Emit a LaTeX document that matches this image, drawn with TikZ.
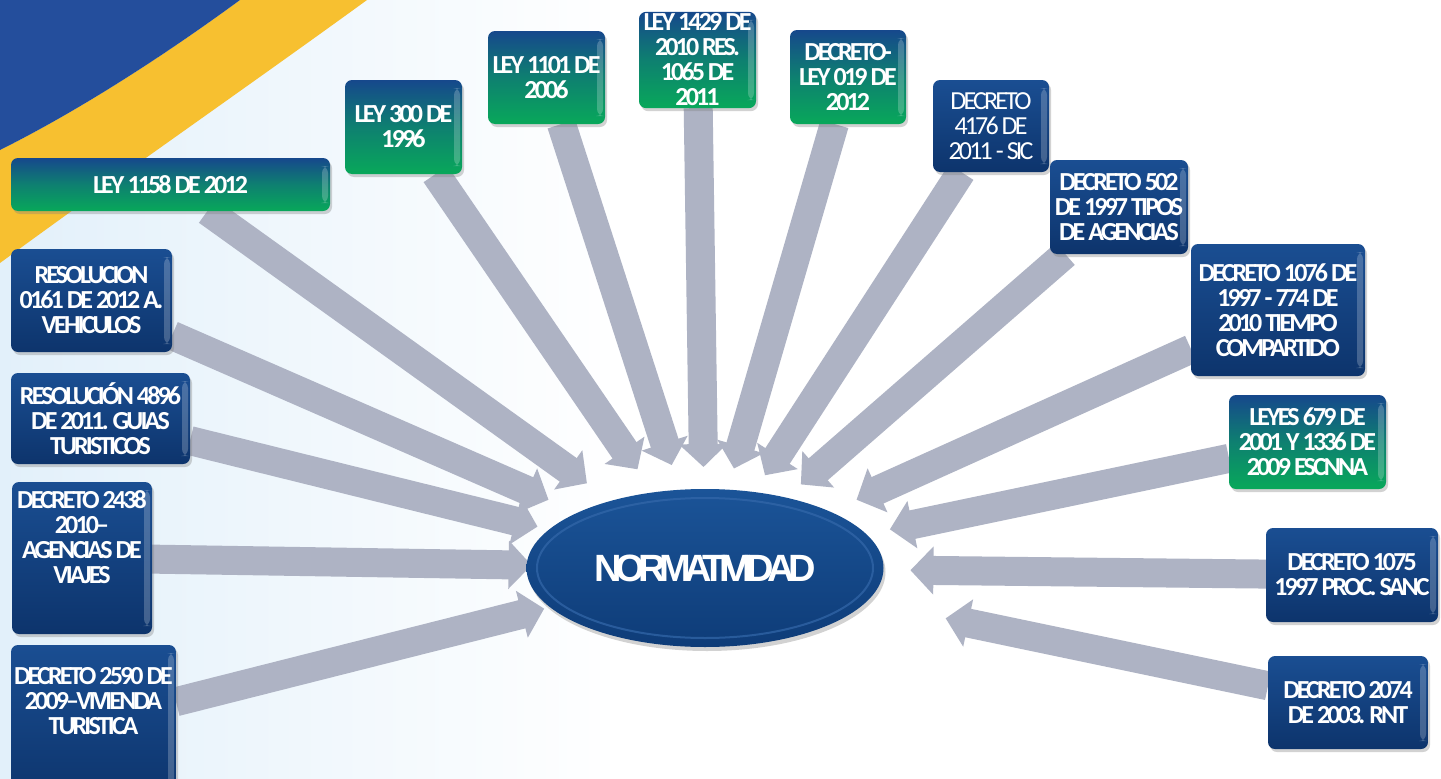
\documentclass[tikz,border=0pt]{standalone}
\usepackage{fontspec}
\newfontfamily\bxfont[LetterSpace=-11]{Carlito}
\newfontfamily\nrmfont[LetterSpace=-17]{Liberation Sans}
\usetikzlibrary{arrows.meta,shadows,shapes.geometric}
\definecolor{bgblue}{RGB}{226,240,250}
\definecolor{swblue}{RGB}{36,78,156}
\definecolor{swyellow}{RGB}{247,192,48}
\definecolor{arrgray}{RGB}{174,179,196}
\definecolor{bxtop}{RGB}{26,78,146}
\definecolor{bxbot}{RGB}{13,52,108}
\definecolor{grtop}{RGB}{22,72,140}
\definecolor{grmid}{RGB}{14,128,112}
\definecolor{grbot}{RGB}{8,168,90}
\definecolor{eltop}{RGB}{27,84,152}
\definecolor{elbot}{RGB}{14,60,120}
\definecolor{elrim}{RGB}{52,104,170}
\pgfdeclarelayer{bg}
\pgfsetlayers{bg,main}
\begin{document}
\begin{tikzpicture}[x=1pt,y=-1pt,
  box/.style={rectangle, rounded corners=7pt, inner sep=2pt, outer sep=0pt, align=center, text=white,
     font=\bxfont\bfseries\fontsize{26}{25}\selectfont,
     drop shadow={shadow xshift=2pt,shadow yshift=-3pt,opacity=0.35},
     path picture={\fill[white,opacity=0.22] ([xshift=-8pt,yshift=-8pt]path picture bounding box.north east) rectangle ([xshift=-2pt,yshift=8pt]path picture bounding box.south east);}},
  bluebox/.style={box, top color=bxtop, bottom color=bxbot},
  greenbox/.style={box, top color=grtop, bottom color=grbot, middle color=grmid},
  arr/.style={arrgray, line width=29pt, -{Triangle[width=47pt,length=23pt]}},
]
\useasboundingbox (0,0) rectangle (1441,779);

% ellipse
\node[ellipse, minimum width=357pt, minimum height=158pt, inner sep=0pt, outer sep=0pt,
  top color=eltop, bottom color=elbot, text=white,
  drop shadow={shadow xshift=2pt,shadow yshift=-4pt,opacity=0.35},
  font=\nrmfont\bfseries\fontsize{38}{40}\selectfont] (norm) at (705,568) {NORMATIVIDAD};
\draw[elrim, line width=2pt, opacity=0.7] (norm.center) ellipse [x radius=168pt, y radius=70pt];

% boxes
\node[greenbox, minimum width=319pt, minimum height=53pt] (b1) at (170.5,184.5) {LEY 1158 DE 2012};
\node[greenbox, minimum width=117pt, minimum height=94pt] (b2) at (403.5,127) {LEY 300 DE\\1996};
\node[greenbox, minimum width=117pt, minimum height=93pt] (b3) at (546.5,77.5) {LEY 1101 DE\\2006};
\node[greenbox, minimum width=117pt, minimum height=94pt] (b4) at (697.5,60) {LEY 1429 DE\\2010 RES.\\1065 DE\\2011};
\node[greenbox, minimum width=116pt, minimum height=94pt] (b5) at (848,77) {DECRETO-\\LEY 019 DE\\2012};
\node[bluebox, minimum width=116pt, minimum height=92pt, font=\bxfont\fontsize{26}{25}\selectfont] (b6) at (991,126) {DECRETO\\4176 DE\\2011 - SIC};
\node[bluebox, minimum width=138pt, minimum height=94pt] (b7) at (1119,207) {DECRETO 502\\DE 1997 TIPOS\\DE AGENCIAS};
\node[bluebox, minimum width=174pt, minimum height=132pt] (b8) at (1278,310) {DECRETO 1076 DE\\1997 - 774 DE\\2010 TIEMPO\\COMPARTIDO};
\node[greenbox, minimum width=157pt, minimum height=94pt] (b9) at (1307.5,442) {LEYES 679 DE\\2001 Y 1336 DE\\2009 ESCNNA};
\node[bluebox, minimum width=172pt, minimum height=94pt] (b10) at (1352,575) {DECRETO 1075\\1997 PROC. SANC};
\node[bluebox, minimum width=160pt, minimum height=93pt] (b11) at (1348,702.5) {DECRETO 2074\\DE 2003. RNT};
\node[bluebox, minimum width=161pt, minimum height=103pt] (b12) at (91.5,300.5) {RESOLUCION\\0161 DE 2012 A.\\VEHICULOS};
\node[bluebox, minimum width=179pt, minimum height=91pt] (b13) at (100.5,418.5) {RESOLUCIÓN 4896\\DE 2011. GUIAS\\TURISTICOS};
\node[bluebox, minimum width=140pt, minimum height=152pt] (b14) at (82,558) {DECRETO 2438\\2010–\\AGENCIAS DE\\VIAJES\\[17pt]\mbox{}};
\node[bluebox, minimum width=165pt, minimum height=155pt] (b15) at (93.5,722.5) {DECRETO 2590 DE\\2009–VIVIENDA\\TURISTICA\\[19pt]\mbox{}};

\begin{pgfonlayer}{bg}
\fill[white] (0,0) rectangle (1441,779);
\shade[left color=bgblue, right color=white] (0,0) rectangle (620,779);
\fill[swyellow] (240,0) -- (367,0) .. controls (250,85) and (120,175) .. (0,263) -- (0,150) .. controls (80,110) and (165,55) .. (240,0) -- cycle;
\fill[swblue] (0,0) -- (240,0) .. controls (165,55) and (80,110) .. (0,150) -- cycle;

\draw[arr, shorten >=30pt] (b1) -- (norm);
\draw[arr, shorten >=28pt] (b2) -- (norm);
\draw[arr, shorten >=26pt] (b3) -- (norm);
\draw[arr, shorten >=22pt] (b4) -- (norm);
\draw[arr, shorten >=22pt] (b5) -- (norm);
\draw[arr, shorten >=20pt] (b6) -- (norm);
\draw[arr, shorten >=20pt] (b7) -- (norm);
\draw[arr, shorten >=29pt] (b8) -- (norm);
\draw[arr, shorten >=24pt] (b9) -- (norm);
\draw[arr, shorten >=27pt] (b10) -- (norm);
\draw[arr, shorten >=81pt] (b11) -- (norm);
\draw[arr, shorten >=32pt] (b12) -- (norm);
\draw[arr, shorten >=12pt] (b13) -- (norm);
\draw[arr, shorten >=-5pt] (b14) -- (norm);
\draw[arr, shorten >=6pt] (b15) -- (norm);
\end{pgfonlayer}
\end{tikzpicture}
\end{document}
